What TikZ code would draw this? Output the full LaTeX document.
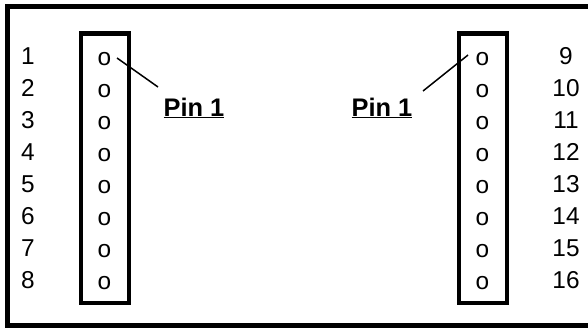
\documentclass[tikz,border=0pt]{standalone}
\usepackage{fontspec}
\setmainfont{Liberation Sans}
\usetikzlibrary{positioning}

\begin{document}
\begin{tikzpicture}[x=1bp,y=-1bp,
  pinnum/.style={inner sep=0pt,font=\fontsize{24.5}{24.5}\selectfont},
  pinhole/.style={inner sep=0pt,font=\fontsize{24.5}{24.5}\selectfont},
  pinlabel/.style={inner sep=0pt,font=\fontsize{25.5}{25.5}\selectfont\bfseries}]
\useasboundingbox (0,0) rectangle (588,329);
\draw[line width=5bp] (7.5,6) rectangle (600,325.5);
\draw[line width=4.5bp] (81,33.5) rectangle (129,303);
\draw[line width=4.5bp] (459,33.5) rectangle (507,303);

\node[pinnum] (n1) at (28,56) {1};
\node[pinnum] (n2) at (28,88) {2};
\node[pinnum] (n3) at (28,120) {3};
\node[pinnum] (n4) at (28,152) {4};
\node[pinnum] (n5) at (28,184) {5};
\node[pinnum] (n6) at (28,216) {6};
\node[pinnum] (n7) at (28,248) {7};
\node[pinnum] (n8) at (28,280) {8};
\node[pinhole] (l1) at (104.5,59) {o};
\node[pinhole] (l2) at (104.5,91) {o};
\node[pinhole] (l3) at (104.5,123) {o};
\node[pinhole] (l4) at (104.5,155) {o};
\node[pinhole] (l5) at (104.5,187) {o};
\node[pinhole] (l6) at (104.5,219) {o};
\node[pinhole] (l7) at (104.5,251) {o};
\node[pinhole] (l8) at (104.5,283) {o};

\node[pinhole] (r1) at (482.5,59) {o};
\node[pinhole] (r2) at (482.5,91) {o};
\node[pinhole] (r3) at (482.5,123) {o};
\node[pinhole] (r4) at (482.5,155) {o};
\node[pinhole] (r5) at (482.5,187) {o};
\node[pinhole] (r6) at (482.5,219) {o};
\node[pinhole] (r7) at (482.5,251) {o};
\node[pinhole] (r8) at (482.5,283) {o};
\node[pinnum] (n9) at (566,56) {9};
\node[pinnum] (n10) at (566,88) {10};
\node[pinnum] (n11) at (566,120) {11};
\node[pinnum] (n12) at (566,152) {12};
\node[pinnum] (n13) at (566,184) {13};
\node[pinnum] (n14) at (566,216) {14};
\node[pinnum] (n15) at (566,248) {15};
\node[pinnum] (n16) at (566,280) {16};

\node[pinlabel] (pinL) at (194,108) {\underline{Pin 1}};
\node[pinlabel] (pinR) at (382,108) {\underline{Pin 1}};
\coordinate (tipL) at (117,58);
\coordinate (tipR) at (468,55);
\coordinate (endL) at (158,87);
\coordinate (endR) at (423,91);
\draw[line width=1.5bp] (tipL) -- (endL);
\draw[line width=1.5bp] (tipR) -- (endR);

\end{tikzpicture}
\end{document}
